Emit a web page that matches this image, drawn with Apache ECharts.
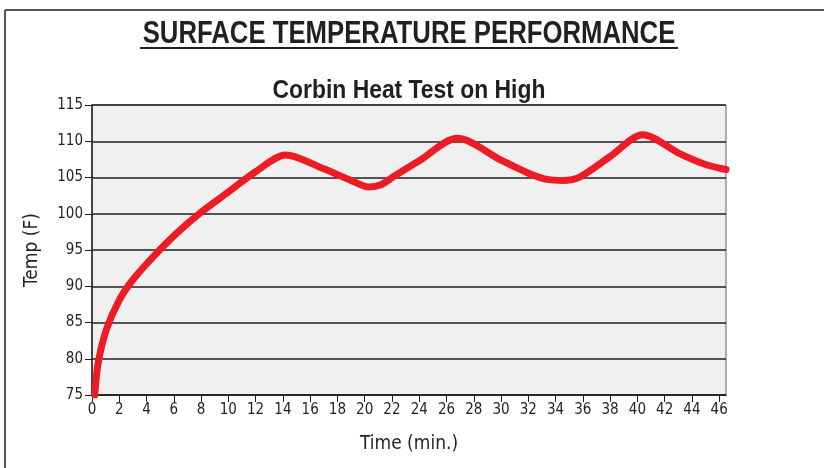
<!DOCTYPE html>
<html>
<head>
<meta charset="utf-8">
<script src="https://cdn.jsdelivr.net/npm/echarts@6/dist/echarts.min.js"></script>
<style>
  html, body { margin: 0; padding: 0; background: #fff; }
  #chart { width: 824px; height: 468px; }
</style>
</head>
<body>
<div id="chart"></div>
<script>
// values
const times = [0.2, 0.45, 1.05, 2, 3, 4.5, 6.2, 8, 10, 12, 14.2, 17, 19, 20.3, 21.2, 22.1, 24, 26.8, 30, 32, 33.5, 34.5, 35.8, 38, 40.4, 43.1, 45, 46.5];
const temps = [75, 79.4, 84, 88.1, 90.9, 94.1, 97.3, 100.2, 103, 105.8, 108.1, 106.2, 104.6, 103.7, 104, 105.1, 107.3, 110.4, 107.4, 105.6, 104.7, 104.6, 105.1, 107.9, 110.9, 108.3, 106.8, 106.1];

const TITLE = 'SURFACE TEMPERATURE PERFORMANCE';
const SUBTITLE = 'Corbin Heat Test on High';

const FONT = '"DejaVu Sans Condensed", "Liberation Sans", Arial, sans-serif';
const WIDE = '"Liberation Sans", Arial, sans-serif';

const chart = echarts.init(document.getElementById('chart'));

const option = {
    animation: false,
    textStyle: { fontFamily: FONT },
    graphic: [
        // frame lines on top and left
        { type: 'line', shape: { x1: 5, y1: 10, x2: 824, y2: 10 }, style: { stroke: '#555', lineWidth: 2 } },
        { type: 'line', shape: { x1: 5, y1: 10, x2: 5, y2: 468 }, style: { stroke: '#555', lineWidth: 2 } },
        // titles, squeezed to look like a condensed face
        {
            type: 'text', x: 409, y: 50, scaleX: 0.83,
            style: { text: TITLE, font: 'bold 31px ' + WIDE, fill: '#231f20', textAlign: 'center', textVerticalAlign: 'bottom' }
        },
        { type: 'line', shape: { x1: 140, y1: 48, x2: 678, y2: 48 }, style: { stroke: '#231f20', lineWidth: 2 } },
        {
            type: 'text', x: 409, y: 104, scaleX: 0.88,
            style: { text: SUBTITLE, font: 'bold 26px ' + WIDE, fill: '#231f20', textAlign: 'center', textVerticalAlign: 'bottom' }
        }
    ],
    grid: {
        left: 92,
        right: 98,
        top: 105,
        bottom: 73,
        show: true,
        backgroundColor: '#f0f0f0',
        borderColor: '#666',
        borderWidth: 1
    },
    xAxis: {
        type: 'value',
        min: 0,
        max: 46.5,
        interval: 2,
        name: 'Time (min.)',
        nameLocation: 'middle',
        nameGap: 40,
        nameTextStyle: { fontFamily: FONT, fontSize: 19, color: '#231f20' },
        axisLine: { show: true, lineStyle: { color: '#231f20', width: 1.5 } },
        axisTick: { show: true, length: 7, lineStyle: { color: '#231f20' } },
        axisLabel: {
            fontFamily: FONT, fontSize: 15, color: '#231f20', margin: 8,
            showMaxLabel: false
        },
        splitLine: { show: false }
    },
    yAxis: {
        type: 'value',
        min: 75,
        max: 115,
        interval: 5,
        name: 'Temp (F)',
        nameLocation: 'middle',
        nameGap: 50,
        nameTextStyle: { fontFamily: FONT, fontSize: 19, color: '#231f20' },
        axisLine: { show: true, lineStyle: { color: '#231f20', width: 1.5 } },
        axisTick: { show: true, length: 7, lineStyle: { color: '#231f20' } },
        axisLabel: { fontFamily: FONT, fontSize: 15, color: '#231f20', margin: 9 },
        splitLine: { show: true, lineStyle: { color: '#231f20', width: 1.5 } }
    },
    series: [
        {
            type: 'line',
            data: times.map((t, i) => [t, temps[i]]),
            smooth: 0.3,
            showSymbol: false,
            clip: true,
            lineStyle: { color: '#ed1c24', width: 7, cap: 'round', join: 'round' }
        }
    ]
};

chart.setOption(option);
</script>
</body>
</html>
